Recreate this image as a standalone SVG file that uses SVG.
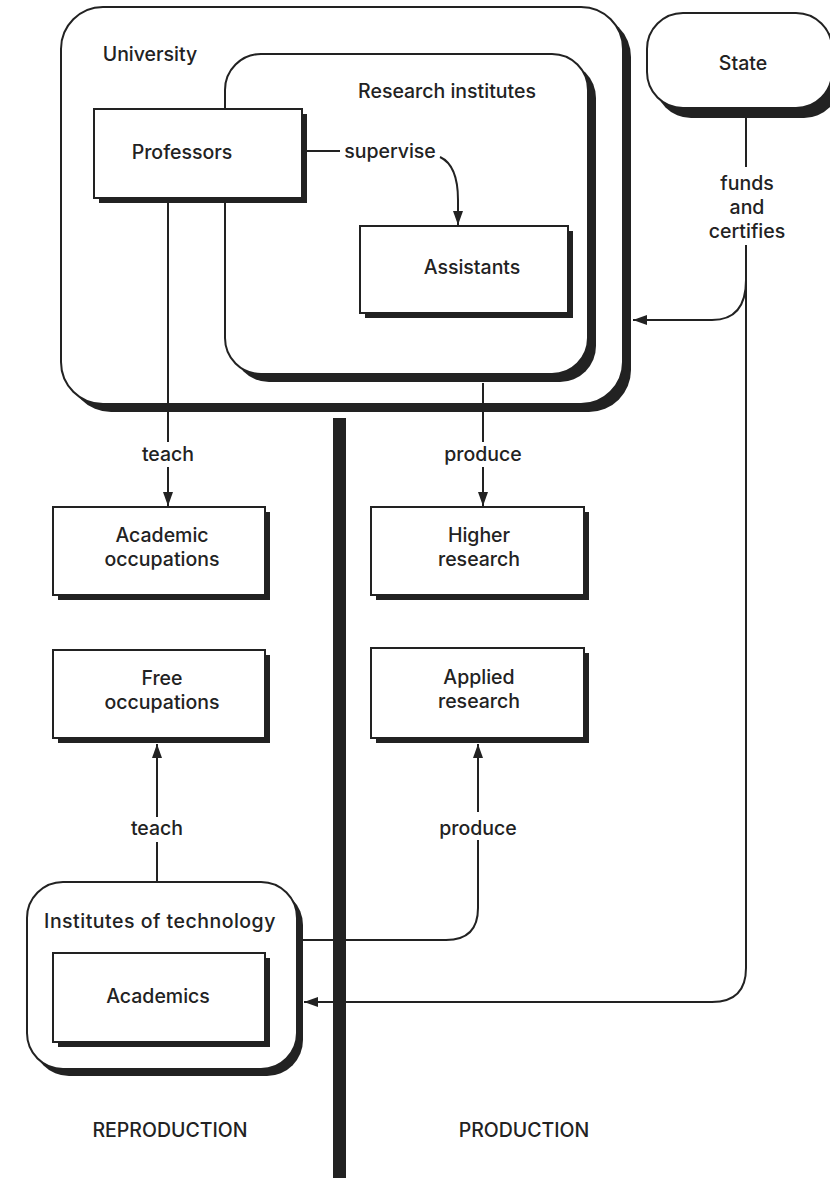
<svg xmlns="http://www.w3.org/2000/svg" width="830" height="1178" viewBox="0 0 830 1178">
<defs>
<style>
text{font-family:Inter,"Open Sans","Liberation Sans",sans-serif;font-size:19.5px;font-weight:500;fill:#222;}
.c{text-anchor:middle;}
.box{fill:#fff;stroke:#222;stroke-width:2;}
.sh{fill:#222;stroke:none;}
.ln{fill:none;stroke:#222;stroke-width:2;}
</style>
<marker id="ah" markerUnits="userSpaceOnUse" markerWidth="14" markerHeight="14" viewBox="0 0 14 10" refX="14" refY="5" orient="auto">
<path d="M0,0 L14,5 L0,10 Z" fill="#222"/>
</marker>
</defs>
<rect width="830" height="1178" fill="#fff"/>

<g id="university">
<rect class="sh" x="69" y="15" width="562" height="397" rx="42"/>
<rect class="box" x="61" y="7" width="562" height="397" rx="42"/>
<text x="150" y="61" class="c">University</text>
</g>

<g id="research-institutes">
<rect class="sh" x="233" y="62" width="363" height="320" rx="36"/>
<rect class="box" x="225" y="54" width="363" height="320" rx="36"/>
<text x="447" y="98" class="c">Research institutes</text>
</g>

<g id="professors">
<rect class="sh" x="99" y="114" width="208" height="89"/>
<rect class="box" x="94" y="109" width="208" height="89"/>
<text x="182" y="159" class="c">Professors</text>
</g>

<g id="assistants">
<rect class="sh" x="365" y="231" width="208" height="87"/>
<rect class="box" x="360" y="226" width="208" height="87"/>
<text x="472" y="274" class="c">Assistants</text>
</g>

<g id="state">
<rect class="sh" x="655" y="23" width="185" height="95" rx="36"/>
<rect class="box" x="647" y="13" width="185" height="95" rx="36"/>
<text x="743" y="70" class="c">State</text>
</g>

<g id="academic-occupations">
<rect class="sh" x="58" y="512" width="212" height="88"/>
<rect class="box" x="53" y="507" width="212" height="88"/>
<text x="162" y="542" class="c">Academic</text>
<text x="162" y="566" class="c">occupations</text>
</g>

<g id="free-occupations">
<rect class="sh" x="58" y="655" width="212" height="88"/>
<rect class="box" x="53" y="650" width="212" height="88"/>
<text x="162" y="685" class="c">Free</text>
<text x="162" y="709" class="c">occupations</text>
</g>

<g id="higher-research">
<rect class="sh" x="376" y="512" width="213" height="88"/>
<rect class="box" x="371" y="507" width="213" height="88"/>
<text x="479" y="542" class="c">Higher</text>
<text x="479" y="566" class="c">research</text>
</g>

<g id="applied-research">
<rect class="sh" x="376" y="653" width="213" height="90"/>
<rect class="box" x="371" y="648" width="213" height="90"/>
<text x="479" y="684" class="c">Applied</text>
<text x="479" y="708" class="c">research</text>
</g>

<g id="institutes-of-technology">
<rect class="sh" x="33" y="889" width="270" height="187" rx="36"/>
<rect class="box" x="27" y="882" width="270" height="187" rx="36"/>
<text x="160" y="928" class="c" letter-spacing="0.5">Institutes of technology</text>
</g>

<g id="academics">
<rect class="sh" x="58" y="958" width="212" height="89"/>
<rect class="box" x="53" y="953" width="212" height="89"/>
<text x="158" y="1003" class="c">Academics</text>
</g>

<g id="divider">
<rect x="333" y="418" width="13" height="760" fill="#222"/>
</g>

<g id="connectors">
<path class="ln" d="M307,151 L340,151"/>
<text x="390" y="158" class="c">supervise</text>
<path class="ln" d="M440,157 C453,163 458,178 458,200 L458,225" marker-end="url(#ah)"/>

<path class="ln" d="M168,203 L168,442"/>
<text x="168" y="461" class="c">teach</text>
<path class="ln" d="M168,467 L168,506" marker-end="url(#ah)"/>

<path class="ln" d="M483,383 L483,442"/>
<text x="483" y="461" class="c">produce</text>
<path class="ln" d="M483,467 L483,506" marker-end="url(#ah)"/>

<path class="ln" d="M157,882 L157,842"/>
<text x="157" y="835" class="c">teach</text>
<path class="ln" d="M157,817 L157,744" marker-end="url(#ah)"/>

<path class="ln" d="M303,940 L446,940 Q478,940 478,908 L478,840"/>
<text x="478" y="835" class="c">produce</text>
<path class="ln" d="M478,812 L478,744" marker-end="url(#ah)"/>

<path class="ln" d="M746,118 L746,167"/>
<text x="747" y="190" class="c">funds</text>
<text x="747" y="214" class="c">and</text>
<text x="747" y="238" class="c">certifies</text>
<path class="ln" d="M746,245 L746,968 Q746,1002 712,1002 L304,1002" marker-end="url(#ah)"/>
<path class="ln" d="M746,280 Q746,320 712,320 L633,320" marker-end="url(#ah)"/>
</g>

<text x="170" y="1137" class="c">REPRODUCTION</text>
<text x="524" y="1137" class="c">PRODUCTION</text>
</svg>
